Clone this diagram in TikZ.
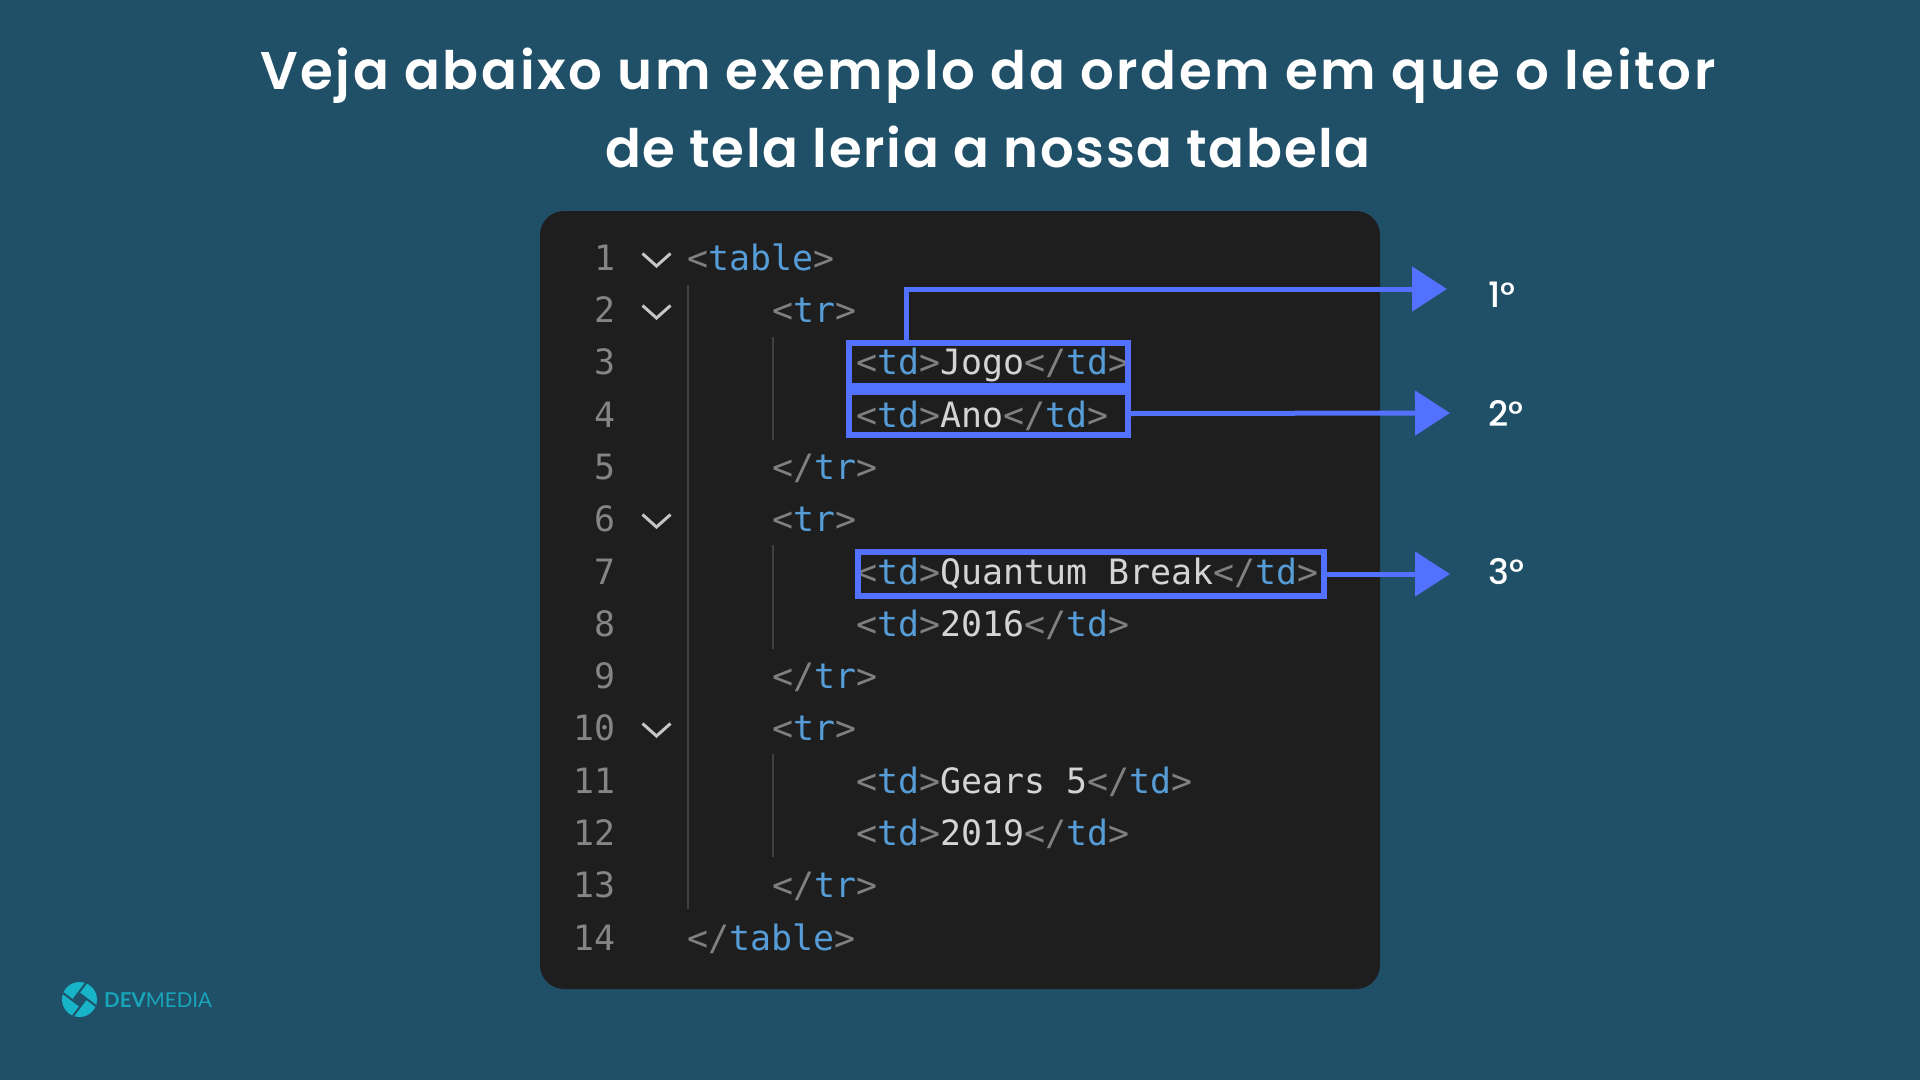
\documentclass[tikz,border=0pt]{standalone}
\usepackage{fontspec}
\usetikzlibrary{arrows.meta}
\setmainfont{Poppins Medium}
\newfontfamily\codefont{DejaVu Sans Mono}
\newfontfamily\titlefont[LetterSpace=4.9]{Poppins SemiBold}
\newfontfamily\titlefontb[LetterSpace=3.1]{Poppins SemiBold}
\newfontfamily\logofont{Lato}
\definecolor{bgc}{HTML}{205068}
\definecolor{panelc}{HTML}{1E1E1E}
\definecolor{bluec}{HTML}{5271FF}
\definecolor{tagc}{HTML}{569CD6}
\definecolor{brc}{HTML}{808080}
\definecolor{txtc}{HTML}{D4D4D4}
\definecolor{numc}{HTML}{858585}
\definecolor{chevc}{HTML}{C5C5C5}
\definecolor{guidec}{HTML}{404040}
\definecolor{logoc}{HTML}{17B4C8}
\newcommand{\tgo}[1]{\textcolor{brc}{<}\textcolor{tagc}{#1}\textcolor{brc}{>}}
\newcommand{\tgc}[1]{\textcolor{brc}{</}\textcolor{tagc}{#1}\textcolor{brc}{>}}
\newcommand{\tx}[1]{\textcolor{txtc}{#1}}
\tikzset{
  code/.style={anchor=base west,inner sep=0pt,outer sep=0pt,yshift=-1.2pt,font=\codefont\fontsize{34.9}{40}\selectfont},
  num/.style={anchor=base east,inner sep=0pt,outer sep=0pt,yshift=-1.2pt,text=numc,font=\codefont\fontsize{34.9}{40}\selectfont},
  hilite/.style={draw=bluec,line width=6pt,inner sep=0pt,outer sep=0pt,fill=none},
  conn/.style={draw=bluec,line width=5pt,-{Triangle[length=35pt,width=44pt]}},
  order/.style={anchor=base west,inner sep=0pt,text=white,font=\fontsize{35}{40}\selectfont},
  heading/.style={anchor=base,inner sep=0pt,text=white,font=\titlefont\fontsize{53}{60}\selectfont},
  headingb/.style={anchor=base,inner sep=0pt,text=white,font=\titlefontb\fontsize{53}{60}\selectfont},
  chev/.style={draw=chevc,line width=3pt},
  guide/.style={draw=guidec,line width=1.6pt},
}
\begin{document}
\begin{tikzpicture}[x=1pt,y=-1pt]
\useasboundingbox (0,0) rectangle (1920,1080);
\fill[bgc] (0,0) rectangle (1920,1080);
\node[heading] (title1) at (988,89) {Veja abaixo um exemplo da ordem em que o leitor};
\node[headingb] (title2) at (988,167) {de tela leria a nossa tabela};
\fill[panelc,rounded corners=24pt] (540,211) rectangle (1380,989);
% guides
\draw[guide] (688,285) -- (688,909);
\draw[guide] (773,337) -- (773,440);
\draw[guide] (773,545) -- (773,649);
\draw[guide] (773,754) -- (773,857);
% chevrons
\foreach \r in {259,311,520,729}{
  \draw[chev] (642.5,\r-5.5) -- (656.5,\r+7) -- (670.5,\r-5.5);
}
% numbers
\node[num] (n1) at (616,269) {1};
\node[num] (n2) at (616,321.3) {2};
\node[num] (n3) at (616,373.6) {3};
\node[num] (n4) at (616,425.9) {4};
\node[num] (n5) at (616,478.2) {5};
\node[num] (n6) at (616,530.5) {6};
\node[num] (n7) at (616,582.8) {7};
\node[num] (n8) at (616,635.1) {8};
\node[num] (n9) at (616,687.4) {9};
\node[num] (n10) at (616,739.7) {10};
\node[num] (n11) at (616,792) {11};
\node[num] (n12) at (616,844.3) {12};
\node[num] (n13) at (616,896.6) {13};
\node[num] (n14) at (616,948.9) {14};
% code
\node[code] (l1) at (687,269) {\tgo{table}};
\node[code] (l2) at (772,321.3) {\tgo{tr}};
\node[code] (l3) at (856,373.6) {\tgo{td}\tx{Jogo}\tgc{td}};
\node[code] (l4) at (856,425.9) {\tgo{td}\tx{Ano}\tgc{td}};
\node[code] (l5) at (772,478.2) {\tgc{tr}};
\node[code] (l6) at (772,530.5) {\tgo{tr}};
\node[code] (l7) at (856,582.8) {\tgo{td}\tx{Quantum Break}\tgc{td}};
\node[code] (l8) at (856,635.1) {\tgo{td}\tx{2016}\tgc{td}};
\node[code] (l9) at (772,687.4) {\tgc{tr}};
\node[code] (l10) at (772,739.7) {\tgo{tr}};
\node[code] (l11) at (856,792) {\tgo{td}\tx{Gears 5}\tgc{td}};
\node[code] (l12) at (856,844.3) {\tgo{td}\tx{2019}\tgc{td}};
\node[code] (l13) at (772,896.6) {\tgc{tr}};
\node[code] (l14) at (687,948.9) {\tgc{table}};
% connectors
\coordinate (turn1) at (906.5,289);
\coordinate (tip1) at (1447,289);
\coordinate (tip2) at (1450,413);
\coordinate (tip3) at (1450,574);
% highlight boxes
\node[hilite,minimum width=279pt,minimum height=43.5pt] (box1) at (988.5,364.25) {};
\node[hilite,minimum width=279pt,minimum height=43pt] (box2) at (988.5,413.5) {};
\node[hilite,minimum width=466pt,minimum height=44pt] (box3) at (1091,574) {};
\draw[conn] (box1.north -| turn1) -- (turn1) -- (tip1);
\draw[conn] (box2.east) -- (tip2);
\draw[conn] (box3.east) -- (tip3);
% order labels
\node[order] (o1) at (1488,307) {1°};
\node[order] (o2) at (1488,426) {2°};
\node[order] (o3) at (1488,584) {3°};
% logo
\fill[logoc] (79.5,999.5) circle (17.5);
\begin{scope}[shift={(79.5,999.5)}]
  \fill[bgc] (-6,0) -- (0,-6) -- (6,0) -- (0,6) -- cycle;
  \draw[bgc,line width=2pt] (-6,0) -- (6.5,-16.5);
  \draw[bgc,line width=2pt] (0,-6) -- (16.5,6.5);
  \draw[bgc,line width=2pt] (6,0) -- (-6.5,16.5);
  \draw[bgc,line width=2pt] (0,6) -- (-16.5,-6.5);
\end{scope}
\node[anchor=base west,inner sep=0pt,text=logoc!85!bgc,font=\logofont\fontsize{20.5}{24}\selectfont] (logo) at (104,1007) {\textbf{DEV}MEDIA};
\end{tikzpicture}
\end{document}
